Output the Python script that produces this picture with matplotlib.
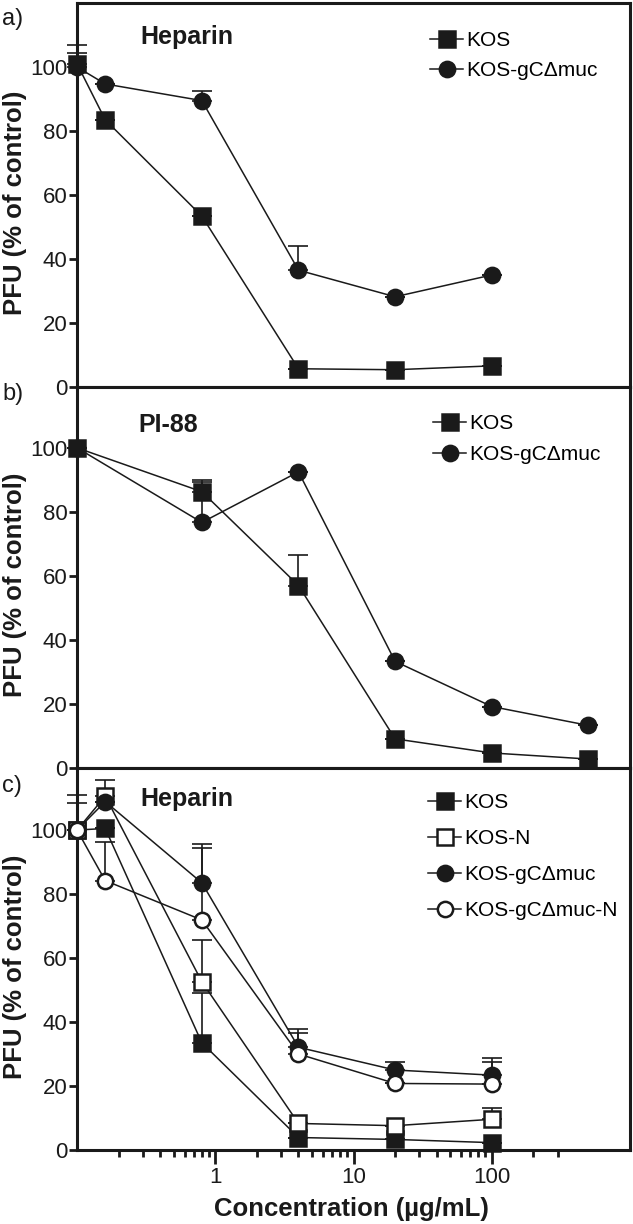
import matplotlib
matplotlib.use('Agg')
import matplotlib.pyplot as plt
from matplotlib.ticker import FixedLocator, NullFormatter

plt.rcParams['font.family'] = ['Liberation Sans', 'DejaVu Sans']

# ---- data ----
# panel a: heparin
conc_a = [0.1, 0.16, 0.8, 4, 20, 100]
kos_a = [101, 83.5, 53.4, 5.7, 5.4, 6.6]
kos_a_err = [6, 0, 0, 0, 0, 0]
muc_a = [100, 94.7, 89.5, 36.5, 28.2, 35.0]
muc_a_err = [4.5, 0, 3, 7.5, 0, 0]

# panel b: PI-88
conc_b = [0.1, 0.8, 4, 20, 100, 500]
kos_b = [100, 86.3, 57.0, 9.1, 4.7, 2.8]
kos_b_err = [0, 3.6, 9.5, 0, 0, 0]
muc_b = [100, 76.7, 92.5, 33.3, 19.2, 13.3]
muc_b_err = [0, 12.5, 0, 0, 0, 0]

# panel c: heparin, +/- N
conc_c = [0.1, 0.16, 0.8, 4, 20, 100]
kos_c = [100, 100.5, 33.5, 3.9, 3.3, 2.3]
kos_c_err = [10.9, 0, 15.5, 0, 0, 0]
kosn_c = [100, 110.6, 52.6, 8.3, 7.6, 9.6]
kosn_c_err = [8.4, 5, 13, 0, 0, 3.4]
muc_c = [100, 108.9, 83.5, 32.1, 25.0, 23.4]
muc_c_err = [0, 0, 12.3, 5.6, 2.6, 5.2]
mucn_c = [100, 84.2, 71.9, 30.0, 20.8, 20.6]
mucn_c_err = [0, 12.1, 22.4, 6.5, 0, 7.0]

yticks = [0, 20, 40, 60, 80, 100]
xticks = [1, 10, 100]
xtick_labels = ['1', '10', '100']

W, H = 633, 1224
fig = plt.figure(figsize=(W / 100, H / 100), dpi=100)
INK = '#1a1a1a'


def px(x, y):
    return x / W, 1 - y / H


def make_ax(top, bottom, ymax):
    l, b = px(77, bottom)
    _, t = px(0, top)
    ax = fig.add_axes([l, b, (630 - 77) / W, t - b])
    ax.set_xscale('log')
    ax.set_xlim(0.1, 1000)
    ax.set_ylim(0, ymax)
    for s in ax.spines.values():
        s.set_linewidth(2.2)
        s.set_color(INK)
    ax.set_yticks(yticks)
    ax.xaxis.set_major_locator(FixedLocator(xticks))
    minors = [m * d for d in (0.1, 1, 10) for m in range(2, 10)] + [200, 300]
    ax.xaxis.set_minor_locator(FixedLocator(minors))
    ax.xaxis.set_minor_formatter(NullFormatter())
    ax.tick_params(axis='y', direction='out', length=6, width=2, colors=INK,
                   labelsize=16, pad=1)
    ax.tick_params(axis='x', which='major', direction='out', length=10, width=2,
                   colors=INK, labelsize=16, pad=2)
    ax.tick_params(axis='x', which='minor', direction='out', length=5, width=2,
                   colors=INK)
    ax.set_ylabel('PFU (% of control)', fontsize=18.5, fontweight='bold',
                  color=INK)
    ax.yaxis.set_label_coords(-0.09, 0.48)
    return ax


def series(ax, x, y, err, marker, filled, label):
    ax.errorbar(x, y, yerr=[[0] * len(err), err], fmt='none', ecolor=INK,
                elinewidth=1.2, capsize=7, capthick=1.2, zorder=2, clip_on=False)
    ax.plot(x, y, color=INK, linewidth=1.1, marker=marker, markersize=11,
            markerfacecolor=INK if filled else 'white', markeredgecolor=INK,
            markeredgewidth=1.8, label=label, zorder=3, clip_on=False)


def legend(ax, x, y, spacing):
    lx, ly = px(x, y)
    ax.legend(loc='upper left', bbox_to_anchor=(lx, ly),
              bbox_transform=fig.transFigure, frameon=False, fontsize=15,
              handlelength=1.6, handletextpad=0.15, labelspacing=spacing,
              borderpad=0, borderaxespad=0)


# a) heparin
ax = make_ax(3, 387, 120)
series(ax, conc_a, kos_a, kos_a_err, 's', True, 'KOS')
series(ax, conc_a, muc_a, muc_a_err, 'o', True, 'KOS-gCΔmuc')
ax.tick_params(axis='x', labelbottom=False)
legend(ax, 430, 31, 0.55)
fig.text(*px(140, 37), 'Heparin', fontsize=18, fontweight='bold', va='center',
         color=INK)
fig.text(*px(2, 19), 'a)', fontsize=17, va='center', color=INK)

# b) PI-88
ax = make_ax(387, 768, 119)
series(ax, conc_b, kos_b, kos_b_err, 's', True, 'KOS')
series(ax, conc_b, muc_b, muc_b_err, 'o', True, 'KOS-gCΔmuc')
ax.tick_params(axis='x', labelbottom=False)
legend(ax, 433, 414, 0.6)
fig.text(*px(138, 425), 'PI-88', fontsize=18, fontweight='bold', va='center',
         color=INK)
fig.text(*px(2, 394), 'b)', fontsize=17, va='center', color=INK)

# c) heparin with N
ax = make_ax(768, 1150, 119.4)
series(ax, conc_c, kos_c, kos_c_err, 's', True, 'KOS')
series(ax, conc_c, kosn_c, kosn_c_err, 's', False, 'KOS-N')
series(ax, conc_c, muc_c, muc_c_err, 'o', True, 'KOS-gCΔmuc')
series(ax, conc_c, mucn_c, mucn_c_err, 'o', False, 'KOS-gCΔmuc-N')
ax.set_xticklabels(xtick_labels)
ax.set_xlabel('Concentration (µg/mL)', fontsize=18.5, fontweight='bold',
              color=INK)
ax.xaxis.set_label_coords(0.497, -0.124)
legend(ax, 428, 793, 0.82)
fig.text(*px(140, 799), 'Heparin', fontsize=18, fontweight='bold', va='center',
         color=INK)
fig.text(*px(2, 786), 'c)', fontsize=17, va='center', color=INK)

fig.savefig('out.png', dpi=100)
